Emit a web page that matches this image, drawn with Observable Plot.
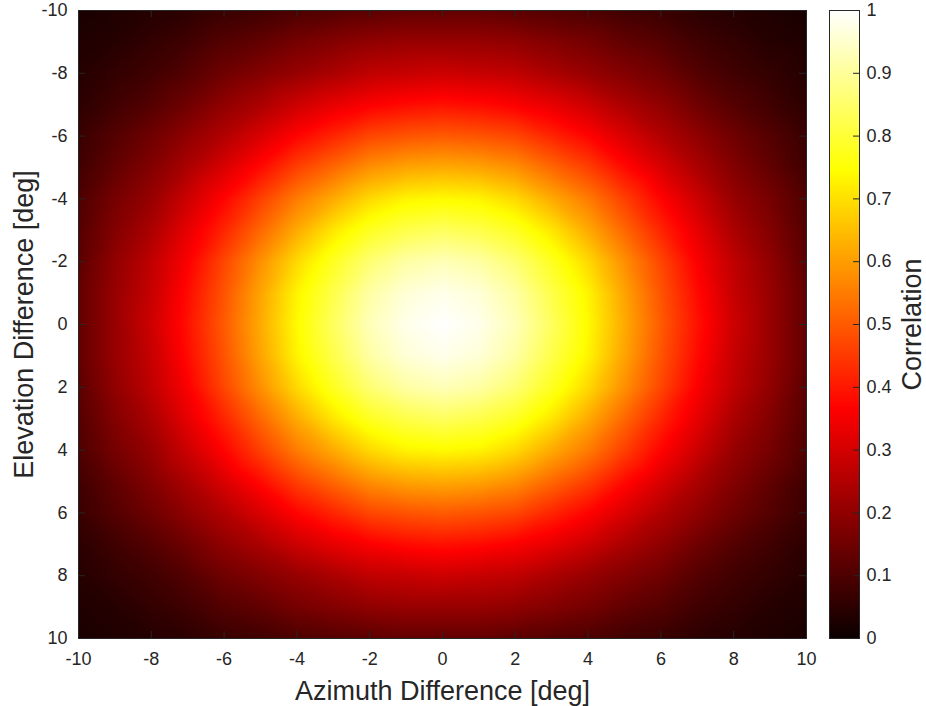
<!DOCTYPE html>
<html><head><meta charset="utf-8">
<script src="https://cdn.jsdelivr.net/npm/d3@7"></script>
<script src="https://cdn.jsdelivr.net/npm/@observablehq/plot@0.6"></script>
<style>
html,body{margin:0;padding:0;background:#fff;}
#wrap{position:relative;width:926px;height:706px;overflow:hidden;}
#main,#bar{position:absolute;top:0;}
#main{left:0;} #bar{left:829px;}
</style></head><body><div id="wrap"><div id="main"></div><div id="bar"></div></div>
<script>
const azimuth = [-10,-9,-8,-7,-6,-5,-4,-3,-2,-1,0,1,2,3,4,5,6,7,8,9,10];
const elevation = [-10,-9,-8,-7,-6,-5,-4,-3,-2,-1,0,1,2,3,4,5,6,7,8,9,10];
// correlation[i][j]: row = elevation[i], column = azimuth[j]
const correlation = [
  [0.02,0.03,0.04,0.05,0.07,0.08,0.10,0.11,0.12,0.13,0.13,0.13,0.12,0.11,0.10,0.08,0.07,0.05,0.04,0.03,0.02],
  [0.03,0.04,0.06,0.08,0.11,0.13,0.16,0.18,0.20,0.21,0.21,0.21,0.20,0.18,0.16,0.13,0.11,0.08,0.06,0.04,0.03],
  [0.04,0.06,0.08,0.11,0.15,0.18,0.21,0.24,0.27,0.28,0.29,0.28,0.27,0.24,0.21,0.18,0.15,0.11,0.08,0.06,0.04],
  [0.05,0.08,0.11,0.15,0.20,0.24,0.29,0.33,0.36,0.38,0.39,0.38,0.36,0.33,0.29,0.24,0.20,0.15,0.11,0.08,0.05],
  [0.07,0.11,0.15,0.20,0.25,0.31,0.37,0.42,0.47,0.49,0.50,0.49,0.47,0.42,0.37,0.31,0.25,0.20,0.15,0.11,0.07],
  [0.08,0.13,0.18,0.24,0.31,0.38,0.46,0.52,0.58,0.61,0.62,0.61,0.58,0.52,0.46,0.38,0.31,0.24,0.18,0.13,0.08],
  [0.10,0.16,0.21,0.29,0.37,0.46,0.55,0.62,0.69,0.73,0.74,0.73,0.69,0.62,0.55,0.46,0.37,0.29,0.21,0.16,0.10],
  [0.11,0.18,0.24,0.33,0.42,0.52,0.62,0.71,0.78,0.82,0.84,0.82,0.78,0.71,0.62,0.52,0.42,0.33,0.24,0.18,0.11],
  [0.12,0.20,0.27,0.36,0.47,0.58,0.69,0.78,0.86,0.91,0.93,0.91,0.86,0.78,0.69,0.58,0.47,0.36,0.27,0.20,0.12],
  [0.13,0.21,0.28,0.38,0.49,0.61,0.73,0.82,0.91,0.96,0.98,0.96,0.91,0.82,0.73,0.61,0.49,0.38,0.28,0.21,0.13],
  [0.13,0.21,0.29,0.39,0.50,0.62,0.74,0.84,0.93,0.98,1.00,0.98,0.93,0.84,0.74,0.62,0.50,0.39,0.29,0.21,0.13],
  [0.13,0.21,0.28,0.38,0.49,0.61,0.73,0.82,0.91,0.96,0.98,0.96,0.91,0.82,0.73,0.61,0.49,0.38,0.28,0.21,0.13],
  [0.12,0.20,0.27,0.36,0.47,0.58,0.69,0.78,0.86,0.91,0.93,0.91,0.86,0.78,0.69,0.58,0.47,0.36,0.27,0.20,0.12],
  [0.11,0.18,0.24,0.33,0.42,0.52,0.62,0.71,0.78,0.82,0.84,0.82,0.78,0.71,0.62,0.52,0.42,0.33,0.24,0.18,0.11],
  [0.10,0.16,0.21,0.29,0.37,0.46,0.55,0.62,0.69,0.73,0.74,0.73,0.69,0.62,0.55,0.46,0.37,0.29,0.21,0.16,0.10],
  [0.08,0.13,0.18,0.24,0.31,0.38,0.46,0.52,0.58,0.61,0.62,0.61,0.58,0.52,0.46,0.38,0.31,0.24,0.18,0.13,0.08],
  [0.07,0.11,0.15,0.20,0.25,0.31,0.37,0.42,0.47,0.49,0.50,0.49,0.47,0.42,0.37,0.31,0.25,0.20,0.15,0.11,0.07],
  [0.05,0.08,0.11,0.15,0.20,0.24,0.29,0.33,0.36,0.38,0.39,0.38,0.36,0.33,0.29,0.24,0.20,0.15,0.11,0.08,0.05],
  [0.04,0.06,0.08,0.11,0.15,0.18,0.21,0.24,0.27,0.28,0.29,0.28,0.27,0.24,0.21,0.18,0.15,0.11,0.08,0.06,0.04],
  [0.03,0.04,0.06,0.08,0.11,0.13,0.16,0.18,0.20,0.21,0.21,0.21,0.20,0.18,0.16,0.13,0.11,0.08,0.06,0.04,0.03],
  [0.02,0.03,0.04,0.05,0.07,0.08,0.10,0.11,0.12,0.13,0.13,0.13,0.12,0.11,0.10,0.08,0.07,0.05,0.04,0.03,0.02]
];
const axisTicks = [-10,-8,-6,-4,-2,0,2,4,6,8,10];
const barTicks = [0,0.1,0.2,0.3,0.4,0.5,0.6,0.7,0.8,0.9,1];
const xLabel = "Azimuth Difference [deg]";
const yLabel = "Elevation Difference [deg]";
const barLabel = "Correlation";

const points = [];
elevation.forEach((el, i) => azimuth.forEach((az, j) => points.push({az, el, c: correlation[i][j]})));

const colorOpts = {type: "linear", domain: [0, 0.365, 0.746, 1], range: ["#0b0000", "#ff0000", "#ffff00", "#ffffff"], interpolate: "rgb", clamp: true};
const font = "'Liberation Sans', Arial, Helvetica, sans-serif";
const ink = "#262626";
const W = 829, H = 706, mL = 78, mT = 10, mR = 23, mB = 68;
const innerW = W - mL - mR, innerH = H - mT - mB;
const tickLen = 7;
const tickFont = 18, labelFont = 27;

const main = Plot.plot({
  width: W, height: H, marginLeft: mL, marginRight: mR, marginTop: mT, marginBottom: mB,
  style: {fontFamily: font, fontSize: tickFont + "px", color: ink, background: "transparent", overflow: "visible"},
  x: {domain: [-10, 10], ticks: axisTicks, tickFormat: d => String(d), tickSize: 0, tickPadding: 14, label: null},
  y: {domain: [-10, 10], reverse: true, ticks: axisTicks, tickFormat: d => String(d), tickSize: 0, tickPadding: 11, label: null},
  color: colorOpts,
  marks: [
    Plot.raster(points, {x: "az", y: "el", fill: "c", interpolate: "barycentric", x1: -10, x2: 10, y1: -10, y2: 10}),
    Plot.tickX(axisTicks, {x: d => d, stroke: ink, insetBottom: innerH - tickLen}),
    Plot.tickX(axisTicks, {x: d => d, stroke: ink, insetTop: innerH - tickLen}),
    Plot.tickY(axisTicks, {y: d => d, stroke: ink, insetRight: innerW - tickLen}),
    Plot.tickY(axisTicks, {y: d => d, stroke: ink, insetLeft: innerW - tickLen}),
    Plot.frame({stroke: ink, strokeWidth: 1}),
    Plot.text([xLabel], {text: d => d, frameAnchor: "bottom", textAnchor: "middle", lineAnchor: "middle", dy: 53, fontSize: labelFont, fill: ink}),
    Plot.text([yLabel], {text: d => d, frameAnchor: "left", textAnchor: "middle", lineAnchor: "middle", dx: -54, rotate: -90, fontSize: labelFont, fill: ink})
  ]
});
document.getElementById("main").appendChild(main);

const bW = 97, bR = 67, barW = bW - bR;
const bar = Plot.plot({
  width: bW, height: H, marginLeft: 0, marginRight: bR, marginTop: mT, marginBottom: mB,
  style: {fontFamily: font, fontSize: tickFont + "px", color: ink, background: "transparent", overflow: "visible"},
  x: {domain: [0, 1], axis: null},
  y: {domain: [0, 1], axis: "right", ticks: barTicks, tickFormat: d => String(d), tickSize: 0, tickPadding: 7, label: null},
  color: colorOpts,
  marks: [
    Plot.raster({fill: (x, y) => y, x1: 0, x2: 1, y1: 0, y2: 1}),
    Plot.tickY(barTicks, {y: d => d, stroke: ink, insetLeft: barW - 6}),
    Plot.frame({stroke: ink, strokeWidth: 1}),
    Plot.text([barLabel], {text: d => d, frameAnchor: "right", textAnchor: "middle", lineAnchor: "middle", dx: 53, rotate: -90, fontSize: labelFont, fill: ink})
  ]
});
document.getElementById("bar").appendChild(bar);
</script></body></html>
